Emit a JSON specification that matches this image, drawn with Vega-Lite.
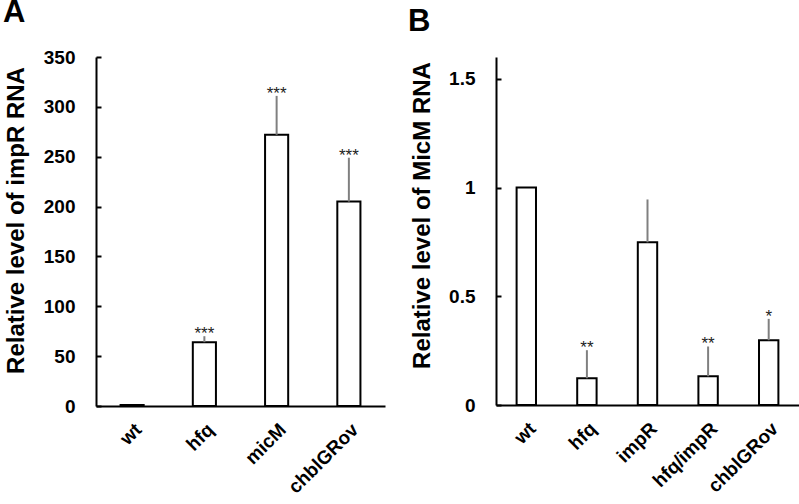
{
  "$schema": "https://vega.github.io/schema/vega-lite/v6.json",
  "background": "white",
  "padding": {"left": 3, "top": -3, "right": 0, "bottom": 0},
  "spacing": 111,
  "bounds": "flush",
  "config": {
    "font": "Liberation Sans",
    "view": {"stroke": null},
    "axisX": {"grid": false, "domainColor": "black", "domainWidth": 2, "ticks": false, "labelAngle": -45, "labelAlign": "right", "labelBaseline": "top", "labelPadding": 14, "labelFont": "Liberation Sans", "labelFontWeight": "bold", "labelFontSize": 19, "labelColor": "black", "title": null},
    "axisY": {"grid": false, "domainColor": "black", "domainWidth": 2, "tickColor": "black", "tickWidth": 2, "tickSize": -5, "labelPadding": 26, "labelFont": "Liberation Sans", "labelFontWeight": "bold", "labelFontSize": 19, "labelColor": "black", "titleFont": "Liberation Sans", "titleFontWeight": "bold", "titleFontSize": 24, "titleColor": "black", "titleBaseline": "middle", "titleAlign": "center"},
    "title": {"font": "Liberation Sans", "fontSize": 31, "fontWeight": "bold", "color": "black", "anchor": "start", "frame": "group", "baseline": "alphabetic"}
  },
  "hconcat": [
    {
      "width": 289,
      "height": 349,
      "title": {"text": "A", "dx": -93, "offset": 19},
      "data": {"values": [
        {"strain": "wt", "value": 1, "upper": 1, "sig": ""},
        {"strain": "hfq", "value": 64, "upper": 70, "sig": "***"},
        {"strain": "micM", "value": 272, "upper": 311, "sig": "***"},
        {"strain": "chblGRov", "value": 205, "upper": 249, "sig": "***"}
      ]},
      "encoding": {
        "x": {"field": "strain", "type": "nominal", "sort": null, "scale": {"paddingInner": 0.68, "paddingOuter": 0.34}, "axis": {"labelFontSize": 19, "labelAngle": -45}}
      },
      "layer": [
        {
          "mark": {"type": "bar", "fill": "white", "stroke": "black", "strokeWidth": 2},
          "encoding": {
            "y": {"field": "value", "type": "quantitative", "scale": {"domain": [0, 350]},
              "axis": {"values": [0, 50, 100, 150, 200, 250, 300, 350], "labelFontSize": 19, "title": "Relative level of impR RNA", "titleX": -80, "titleY": 163}}
          }
        },
        {
          "mark": {"type": "rule", "color": "#808080", "strokeWidth": 2},
          "encoding": {"y": {"field": "value", "type": "quantitative"}, "y2": {"field": "upper"}}
        },
        {
          "mark": {"type": "text", "fontSize": 17, "color": "#222222", "baseline": "alphabetic", "dy": 3},
          "encoding": {"y": {"field": "upper", "type": "quantitative"}, "text": {"field": "sig"}}
        }
      ]
    },
    {
      "width": 303,
      "height": 348,
      "title": {"text": "B", "dx": -88, "offset": 19},
      "data": {"values": [
        {"strain": "wt", "value": 1.0, "upper": 1.0, "sig": ""},
        {"strain": "hfq", "value": 0.123, "upper": 0.252, "sig": "**"},
        {"strain": "impR", "value": 0.748, "upper": 0.945, "sig": ""},
        {"strain": "hfq/impR", "value": 0.132, "upper": 0.269, "sig": "**"},
        {"strain": "chblGRov", "value": 0.298, "upper": 0.396, "sig": "*"}
      ]},
      "encoding": {
        "x": {"field": "strain", "type": "nominal", "sort": null, "scale": {"paddingInner": 0.68, "paddingOuter": 0.34}, "axis": {"labelFontSize": 19, "labelAngle": -45}}
      },
      "layer": [
        {
          "mark": {"type": "bar", "fill": "white", "stroke": "black", "strokeWidth": 2},
          "encoding": {
            "y": {"field": "value", "type": "quantitative", "scale": {"domain": [0, 1.5]},
              "axis": {"values": [0, 0.5, 1, 1.5], "format": "~g", "labelFontSize": 19, "title": "Relative level of MicM RNA", "titleX": -74, "titleY": 158}}
          }
        },
        {
          "mark": {"type": "rule", "color": "#808080", "strokeWidth": 2},
          "encoding": {"y": {"field": "value", "type": "quantitative"}, "y2": {"field": "upper"}}
        },
        {
          "mark": {"type": "text", "fontSize": 17, "color": "#222222", "baseline": "alphabetic", "dy": 3},
          "encoding": {"y": {"field": "upper", "type": "quantitative"}, "text": {"field": "sig"}}
        }
      ]
    }
  ]
}
